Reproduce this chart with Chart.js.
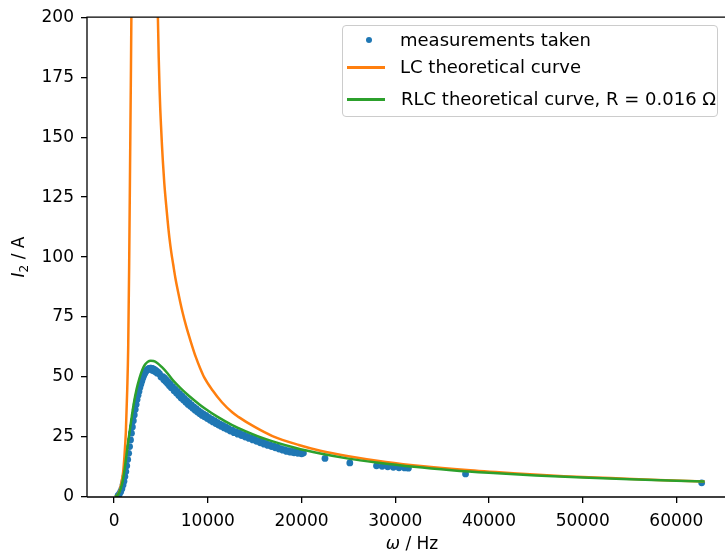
<!DOCTYPE html>
<html>
<head>
<meta charset="utf-8">
<script src="https://cdn.jsdelivr.net/npm/chart.js@4.4.1/dist/chart.umd.min.js"></script>
<style>
  html, body { margin: 0; padding: 0; background: #fff; }
  #wrap { position: relative; width: 727px; height: 554px; overflow: hidden; }
  #legend {
    position: absolute; left: 342px; top: 25px; width: 374px; height: 90px;
    border: 1px solid #cccccc; border-radius: 4px; background: rgba(255,255,255,0.8);
    font-family: 'DejaVu Sans', sans-serif; font-size: 18px; color: #000;
  }
  .row { position: absolute; left: 0; height: 20px; line-height: 20px; white-space: nowrap; }
  .row span.txt { position: absolute; left: 57px; top: 0; }
  .dot { position: absolute; left: 23px; top: 7px; width: 6px; height: 6px; border-radius: 50%; background: #1f77b4; }
  .ln { position: absolute; left: 4px; top: 9px; width: 38px; height: 2.5px; }
</style>
</head>
<body>
<div id="wrap">
  <canvas id="chart" width="727" height="554"></canvas>
  <div id="legend">
    <div class="row" style="top:4px"><div class="dot"></div><span class="txt">measurements taken</span></div>
    <div class="row" style="top:31px"><div class="ln" style="background:#ff7f0e"></div><span class="txt">LC theoretical curve</span></div>
    <div class="row" style="top:63px"><div class="ln" style="background:#2ca02c"></div><span class="txt" style="left:58px">RLC theoretical curve, R = 0.016 Ω</span></div>
  </div>
</div>
<script>
const measOmega = [420, 560, 700, 830, 950, 1050, 1150, 1250, 1350, 1450,
  1550, 1650, 1750, 1850, 1950, 2050, 2150, 2250, 2350, 2450,
  2550, 2650, 2750, 2850, 2950, 3050, 3150, 3250, 3350, 3450,
  3550, 3650, 3750, 3850, 3950, 4050, 4150, 4250, 4350, 4450,
  4550, 4700, 4850, 5200, 5400, 5600, 5800, 6000, 6250, 6500,
  6750, 7000, 7250, 7500, 7750, 8000, 8250, 8500, 8750, 9000,
  9250, 9500, 9800, 10100, 10400, 10700, 11000, 11300, 11600, 11900,
  12200, 12600, 13000, 13400, 13800, 14200, 14600, 15000, 15400, 15800,
  16200, 16600, 17000, 17400, 17800, 18200, 18600, 19000, 19400, 19800,
  20200, 22500, 25150, 28000, 28600, 29200, 29800, 30400, 31000, 31400,
  37500, 62700,
  4000, 4200, 4400, 4600, 5000, 5300, 5500, 5700, 5900, 6100,
  6400, 6650, 6900, 7150, 7400, 7650, 7900, 8150, 8400, 8650,
  8900, 9150, 9400, 9650, 9950, 10250, 10550, 10850, 11150, 11450,
  11750, 12050, 12400, 12800, 13200, 13600, 14000, 14400, 14800, 15200,
  15600, 16000, 16400, 16800, 17200, 17600, 18000, 18400, 18800, 19200,
  19600, 20000];
const measCurrent = [0.6, 1.2, 2.2, 3.4, 5.0, 6.6, 8.5, 10.6, 13.0, 15.6,
  18.2, 21.0, 23.8, 26.6, 29.2, 31.8, 34.2, 36.5, 38.6, 40.6,
  42.4, 44.0, 45.6, 47.0, 48.3, 49.5, 50.5, 51.4, 52.1, 52.7,
  53.1, 53.4, 53.6, 53.7, 53.7, 53.6, 53.4, 53.2, 53.0, 52.7,
  52.4, 51.9, 51.3, 50.2, 49.5, 48.7, 47.9, 47.0, 45.9, 45.0,
  44.0, 43.0, 42.0, 41.1, 40.2, 39.3, 38.4, 37.6, 36.8, 36.0,
  35.3, 34.6, 34.0, 33.2, 32.5, 31.8, 31.1, 30.4, 29.8, 29.2,
  28.6, 27.9, 27.2, 26.6, 26.0, 25.3, 24.7, 24.1, 23.5, 22.9,
  22.3, 21.8, 21.3, 20.8, 20.2, 19.7, 19.3, 19.0, 18.8, 18.5,
  18.3, 16.1, 14.2, 13.0, 12.8, 12.6, 12.4, 12.2, 12.1, 12.0,
  9.6, 5.9,
  52.9, 52.6, 52.2, 51.6, 50.0, 48.9, 48.1, 47.3, 46.4, 45.5,
  44.3, 43.3, 42.3, 41.3, 40.4, 39.5, 38.6, 37.8, 37.0, 36.2,
  35.4, 34.7, 34.0, 33.4, 32.7, 32.0, 31.3, 30.6, 30.0, 29.4,
  28.8, 28.2, 27.5, 26.8, 26.2, 25.6, 25.0, 24.4, 23.8, 23.2,
  22.6, 22.0, 21.5, 21.0, 20.5, 20.0, 19.5, 19.0, 18.7, 18.4,
  18.2, 18.0];

const lcOmega = [100, 300, 500, 650, 800, 950, 1100, 1250, 1400, 1500,
  1600, 1700, 1780, 1840, 1900, 1960, 4400, 4500, 4600, 4670,
  4760, 4850, 4920, 5000, 5100, 5200, 5350, 5500, 5700, 5900,
  6100, 6300, 6550, 6800, 7050, 7300, 7700, 8200, 8700, 9200,
  9600, 10500, 11500, 12600, 13300, 15000, 16900, 19700, 22000, 25000,
  29000, 33000, 38000, 43000, 48000, 53000, 58000, 63000];
const lcCurrent = [0.1, 0.6, 1.8, 3.5, 6.5, 10, 17, 27, 45, 62,
  95, 138, 172, 200, 240, 300, 270, 235, 213, 200,
  183, 170, 162, 155, 147, 140, 131, 124, 115.5, 108,
  102, 97, 91, 86, 81.3, 77, 71, 64.5, 58.5, 53.5,
  50, 44.5, 39.5, 35.3, 33.3, 29.2, 25.4, 21.7, 19.3, 17,
  14.6, 12.8, 11.1, 9.8, 8.7, 7.9, 7.1, 6.5];

const rlcOmega = [100, 300, 500, 700, 900, 1100, 1300, 1500, 1700, 1900,
  2100, 2400, 2700, 3000, 3300, 3600, 3900, 4200, 4600, 5100,
  5600, 6260, 7000, 8000, 9100, 9800, 11000, 12600, 14000, 16200,
  19300, 22000, 25000, 28000, 32000, 36000, 40000, 45000, 50000, 55000,
  60000, 63000];
const rlcCurrent = [0.1, 0.5, 1.5, 3.5, 6.5, 11, 17, 23, 28.5, 34,
  39, 45, 49.5, 53, 55.2, 56.4, 56.8, 56.7, 55.9, 54.1,
  52, 48.7, 45.7, 42.1, 38.6, 36.6, 33.5, 30, 27.5, 24.1,
  20.5, 18.1, 16.0, 14.4, 12.6, 11.2, 10.1, 9.0, 8.1, 7.35,
  6.73, 6.41];

const xTicks = [0, 10000, 20000, 30000, 40000, 50000, 60000];
const yTicks = [0, 25, 50, 75, 100, 125, 150, 175, 200];

const FONT = "'DejaVu Sans', sans-serif";

function toPoints(xs, ys) {
  return xs.map((x, i) => ({ x: x, y: ys[i] }));
}

// spines (left, top, bottom) and axis titles with italic / subscript parts
const framePlugin = {
  id: 'frame',
  afterDraw(chart) {
    const ctx = chart.ctx;
    const a = chart.chartArea;
    ctx.save();
    ctx.strokeStyle = '#000';
    ctx.lineWidth = 1.3;
    ctx.beginPath();
    ctx.moveTo(a.left, a.bottom);
    ctx.lineTo(a.left, a.top);
    ctx.lineTo(a.right + 2, a.top);
    ctx.moveTo(a.left, a.bottom);
    ctx.lineTo(a.right + 2, a.bottom);
    ctx.stroke();

    ctx.fillStyle = '#000';
    ctx.textBaseline = 'alphabetic';
    // x title
    const xParts = [
      { t: 'ω', f: 'italic 17px ' + FONT, dy: 0 },
      { t: ' / Hz', f: '17px ' + FONT, dy: 0 }
    ];
    drawParts(ctx, xParts, 412, 549);
    // y title, rotated
    ctx.translate(24, 257);
    ctx.rotate(-Math.PI / 2);
    const yParts = [
      { t: 'I', f: 'italic 17px ' + FONT, dy: 0 },
      { t: '2', f: '12px ' + FONT, dy: 4 },
      { t: ' / A', f: '17px ' + FONT, dy: 0 }
    ];
    drawParts(ctx, yParts, 0, 0);
    ctx.restore();
  }
};

function drawParts(ctx, parts, cx, baseY) {
  let total = 0;
  parts.forEach(p => { ctx.font = p.f; total += ctx.measureText(p.t).width; });
  let x = cx - total / 2;
  parts.forEach(p => {
    ctx.font = p.f;
    ctx.fillText(p.t, x, baseY + p.dy);
    x += ctx.measureText(p.t).width;
  });
}

const ctx = document.getElementById('chart').getContext('2d');
new Chart(ctx, {
  type: 'scatter',
  data: {
    datasets: [
      {
        label: 'measurements taken',
        data: toPoints(measOmega, measCurrent),
        backgroundColor: '#1f77b4',
        borderColor: '#1f77b4',
        pointRadius: 3.4,
        pointBorderWidth: 0,
        showLine: false,
        order: 3
      },
      {
        label: 'LC theoretical curve',
        data: toPoints(lcOmega, lcCurrent),
        borderColor: '#ff7f0e',
        borderWidth: 2.5,
        pointRadius: 0,
        showLine: true,
        cubicInterpolationMode: 'monotone',
        capBezierPoints: false,
        order: 2
      },
      {
        label: 'RLC theoretical curve, R = 0.016 Ω',
        data: toPoints(rlcOmega, rlcCurrent),
        borderColor: '#2ca02c',
        borderWidth: 2.5,
        pointRadius: 0,
        showLine: true,
        cubicInterpolationMode: 'monotone',
        capBezierPoints: false,
        order: 1
      }
    ]
  },
  options: {
    responsive: false,
    animation: false,
    events: [],
    layout: { padding: { top: 16, right: 0, left: 0, bottom: 0 } },
    plugins: {
      legend: { display: false },
      tooltip: { enabled: false }
    },
    scales: {
      x: {
        type: 'linear',
        min: -2895,
        max: 64975,
        afterFit: scale => { scale.height = 57; },
        afterBuildTicks: scale => { scale.ticks = xTicks.map(v => ({ value: v })); },
        grid: { drawOnChartArea: false, drawTicks: true, tickLength: 6, color: '#000', lineWidth: 1.3 },
        border: { display: false },
        ticks: {
          color: '#000',
          font: { family: FONT, size: 17 },
          padding: 8,
          maxRotation: 0,
          autoSkip: false,
          callback: v => String(v)
        }
      },
      y: {
        type: 'linear',
        min: 0,
        max: 200,
        afterFit: scale => { scale.width = 87; },
        afterBuildTicks: scale => { scale.ticks = yTicks.map(v => ({ value: v })); },
        grid: { drawOnChartArea: false, drawTicks: true, tickLength: 6, color: '#000', lineWidth: 1.3 },
        border: { display: false },
        ticks: {
          color: '#000',
          font: { family: FONT, size: 17 },
          padding: 7,
          callback: v => String(v)
        }
      }
    }
  },
  plugins: [framePlugin]
});
</script>
</body>
</html>
